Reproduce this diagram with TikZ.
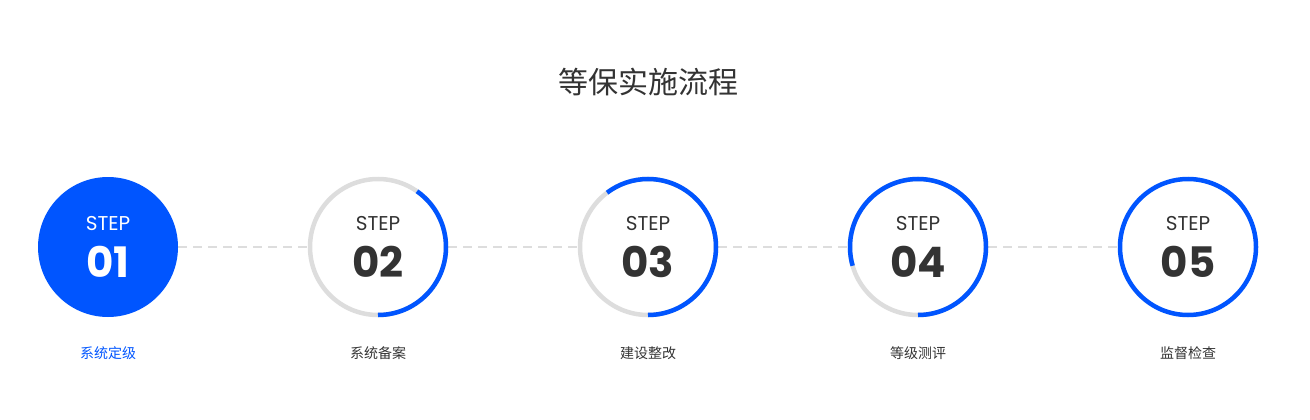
\documentclass[tikz,border=0pt]{standalone}
\usepackage{fontspec}
\newfontfamily\cjk{Noto Sans CJK SC}
\newfontfamily\pop{Poppins}
\definecolor{myblue}{HTML}{0055FF}
\definecolor{mygray}{HTML}{DDDDDD}
\definecolor{mytext}{HTML}{333333}
\begin{document}
\begin{tikzpicture}[x=1pt,y=-1pt,
  ring/.style={draw=mygray,line width=4.5pt},
  arcb/.style={draw=myblue,line width=4.5pt},
  dash line/.style={draw=mygray,line width=2pt,dash pattern=on 9pt off 6pt},
  steptxt/.style={font=\pop\fontsize{20}{20}\selectfont,text=mytext},
  numtxt/.style={font=\pop\bfseries\fontsize{42}{42}\selectfont,text=mytext},
  lbl/.style={font=\cjk\fontsize{14}{14}\selectfont,text=mytext}]
\useasboundingbox (0,0) rectangle (1310,420);
\node[font=\cjk\fontsize{30}{30}\selectfont,text=mytext] (title) at (648,82) {等保实施流程};
\foreach \i/\x in {1/108,2/378,3/648,4/918,5/1188}{
  \coordinate (c\i) at (\x,247);
}
\foreach \a/\b in {1/2,2/3,3/4,4/5}{
  \draw[dash line] ([xshift=70pt]c\a) -- ([xshift=-70pt]c\b);
}
\fill[myblue] (c1) circle (70);
\foreach \i in {2,3,4}{\draw[ring] (c\i) circle (68);}
\draw[arcb] ([yshift=-68pt]c2) arc[start angle=90,end angle=-55,radius=68];
\draw[arcb] ([yshift=-68pt]c3) arc[start angle=90,end angle=-127,radius=68];
\draw[arcb] ([yshift=-68pt]c4) arc[start angle=90,end angle=-196,radius=68];
\draw[arcb] (c5) circle (68);
\node[steptxt,text=white] (s1) at (108,224) {STEP};
\node[numtxt,text=white] (n1) at (108,262) {01};
\foreach \i/\x in {2/378,3/648,4/918,5/1188}{
  \node[steptxt] (s\i) at (\x,224) {STEP};
  \node[numtxt] (n\i) at (\x,262) {0\i};
}
\node[lbl,text=myblue] (l1) at (108,353) {系统定级};
\node[lbl] (l2) at (378,353) {系统备案};
\node[lbl] (l3) at (648,353) {建设整改};
\node[lbl] (l4) at (918,353) {等级测评};
\node[lbl] (l5) at (1188,353) {监督检查};
\end{tikzpicture}
\end{document}
